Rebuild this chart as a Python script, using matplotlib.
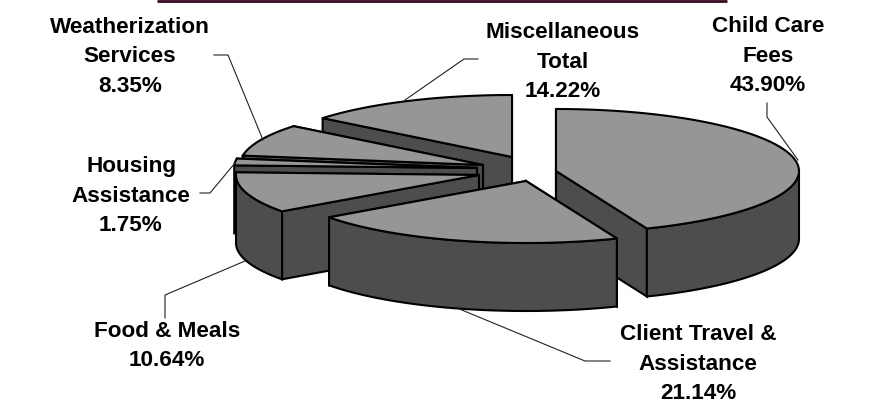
import numpy as np
import matplotlib
matplotlib.use("Agg")
import matplotlib.pyplot as plt

plt.rcParams['font.family'] = ['Liberation Sans', 'DejaVu Sans']

# clockwise from 12 o'clock
names = ['Child Care\nFees', 'Client Travel &\nAssistance', 'Food & Meals',
         'Housing\nAssistance', 'Weatherization\nServices', 'Miscellaneous\nTotal']
shares = [43.90, 21.14, 10.64, 1.75, 8.35, 14.22]

# exploded apex of each slice, in pixels
apex = [(556, 171), (526, 181), (479, 175), (477, 168), (483, 165), (512, 157)]
label_pos = [(768, 56), (698, 364), (167, 346), (131, 196), (130, 57), (563, 62)]
leaders = [[(767, 103), (767, 117), (798, 160)],
           [(457, 308), (585, 361), (610, 361)],
           [(245, 261), (165, 295), (165, 318)],
           [(200, 193), (210, 193), (235, 163)],
           [(214, 55), (228, 55), (263, 140)],
           [(478, 59), (464, 59), (405, 100)]]

rx, ry, depth = 243, 62, 68
top_col = '#969696'
side_col = '#4d4d4d'

fig = plt.figure(figsize=(8.84, 4.09), dpi=100)
ax = fig.add_axes([0, 0, 1, 1])
ax.set_xlim(0, 884)
ax.set_ylim(409, 0)
ax.axis('off')

ax.plot([157, 727], [1, 1], color='#3a0a20', lw=2, solid_capstyle='butt')

edges = np.cumsum([0] + shares) / 100 * 2 * np.pi


def draw_slice(i):
    cx, cy = apex[i]
    t = np.linspace(edges[i], edges[i + 1], 80)
    x = cx + rx * np.sin(t)
    y = cy - ry * np.cos(t)
    kw = dict(edgecolor='black', lw=1.5, joinstyle='miter')
    # the two cut faces, the one nearer the viewer last
    for k in sorted((0, -1), key=lambda k: y[k]):
        ax.fill([cx, x[k], x[k], cx], [cy, y[k], y[k] + depth, cy + depth],
                facecolor=side_col, **kw)
    # outer wall, front part only
    front = np.cos(t) < 0
    if front.any():
        fx, fy = x[front], y[front]
        ax.fill(np.r_[fx, fx[::-1]], np.r_[fy, fy[::-1] + depth],
                facecolor=side_col, **kw)
    ax.fill(np.r_[cx, x], np.r_[cy, y], facecolor=top_col, **kw)


for i in [5, 4, 3, 2, 0, 1]:
    draw_slice(i)

for pts in leaders:
    ax.plot(*zip(*pts), color='#222222', lw=0.8)

for i, name in enumerate(names):
    ax.text(label_pos[i][0], label_pos[i][1], '%s\n%.2f%%' % (name, shares[i]),
            ha='center', va='center', fontsize=16.2, fontweight='bold',
            linespacing=1.55, color='black')

fig.savefig('out.png', dpi=100)
